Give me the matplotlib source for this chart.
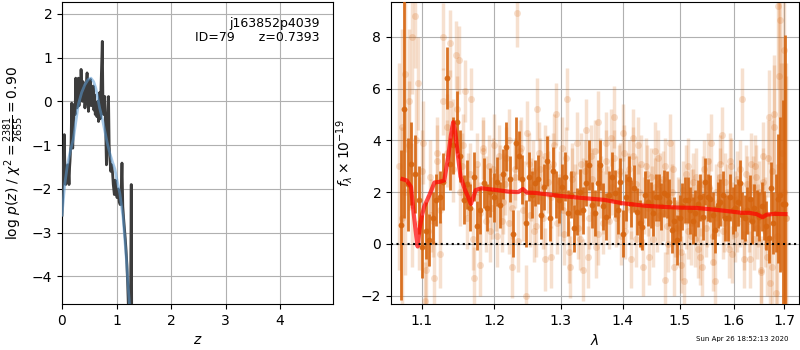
import numpy as np
import matplotlib
matplotlib.use("Agg")
import matplotlib.pyplot as plt
from matplotlib.ticker import NullLocator, FixedLocator

# ---------------- data: left panel (log p(z)) ----------------
z_grid = [0.000, 0.010, 0.020, 0.030, 0.042, 0.055, 0.068, 0.080, 0.092, 0.105,
          0.117, 0.129, 0.140, 0.147, 0.157, 0.166, 0.178, 0.188, 0.197, 0.210,
          0.227, 0.240, 0.252, 0.264, 0.276, 0.288, 0.300, 0.312, 0.325, 0.338,
          0.350, 0.362, 0.374, 0.386, 0.398, 0.410, 0.420, 0.440, 0.460, 0.472,
          0.485, 0.497, 0.510, 0.523, 0.535, 0.548, 0.560, 0.573, 0.585, 0.598,
          0.610, 0.625, 0.640, 0.655, 0.670, 0.680, 0.690, 0.700, 0.715, 0.739,
          0.750, 0.762, 0.775, 0.785, 0.800, 0.815, 0.830, 0.853, 0.865, 0.880,
          0.895, 0.910, 0.925, 0.940, 0.960, 0.975, 0.990, 1.010, 1.030, 1.050,
          1.068, 1.085, 1.100, 1.115, 1.130, 1.145, 1.160, 1.175, 1.190, 1.205,
          1.220, 1.240, 1.260, 1.270, 1.280, 1.300]
log_pz = [-2.6, -2.3, -1.6, -1.3, -0.76, -1.7, -1.9, -1.6, -1.85, -1.45,
          -1.6, -1.9, -1.5, -1.37, -1.1, -1.0, -0.04, -0.9, -1.07, -0.5,
          -0.07, -0.3, 0.53, 0.0, -0.15, 0.25, 0.53, -0.1, 0.3, 0.1,
          0.73, 0.2, 0.0, 0.45, 0.1, 0.3, -0.15, 0.2, 0.65, 0.1,
          -0.23, 0.45, 0.1, 0.5, -0.1, 0.3, 0.0, 0.35, -0.2, 0.15,
          -0.3, -0.1, -0.35, 0.0, -0.46, -0.1, 0.2, -0.4, 0.3, 1.37,
          0.08, -0.3, 0.0, 0.11, -0.61, -1.45, -0.8, 0.11, -1.0, -1.35,
          -1.6, -1.45, -1.6, -1.9, -2.13, -1.8, -2.05, -2.2, -2.0, -2.3,
          -2.36, -2.1, -1.41, -2.4, -2.67, -2.9, -3.13, -3.4, -3.73, -4.2,
          -4.8, -5.5, -4.0, -1.9, -5.5, -7.0]

z_smooth = [0.0, 0.05, 0.1, 0.15, 0.21, 0.25, 0.3, 0.36, 0.42, 0.48, 0.53, 0.58,
            0.62, 0.66, 0.69, 0.74, 0.785, 0.83, 0.88, 0.93, 0.97, 1.0, 1.06,
            1.12, 1.18, 1.24, 1.27]
log_pz_smooth = [-2.6, -1.9, -1.45, -1.15, -0.85, -0.5, -0.07, 0.2, 0.38, 0.5, 0.53,
                 0.45, 0.3, 0.05, -0.15, -0.4, -0.68, -0.95, -1.2, -1.4, -1.55,
                 -1.75, -2.1, -2.65, -3.6, -4.7, -5.3]

root_name = 'j163852p4039'
obj_id = 79
z_best = 0.7393
chi2_num, chi2_den = 2381, 2655
timestamp = 'Sun Apr 26 18:52:13 2020'

# ---------------- data: right panel (spectrum) ----------------
# binned spectrum, regular wavelength grid (start, step, count)
wave_bin_start, wave_bin_step, n_bin = 1.072, 0.0047, 135
flux_bin = [0.73, 5.2, 2.3, 3.1, 2.7, 1.7, -0.1, 0.5, 0.15, 1.0,
            1.7, 1.8, 2.4, 6.4, 3.1, 3.8, 4.7, 3.4, 1.7, 2.3,
            1.4, 2.6, 0.7, 1.3, 2.35, 1.4, 2.0, 1.8, 2.4, 1.5,
            2.7, 3.75, 2.5, 0.4, 3.9, 3.4, 2.5, 0.8, 2.6, 1.9,
            2.35, 2.5, 1.1, 2.2, 3.2, 1.0, 2.8, 1.9, 1.7, 2.2,
            2.6, 1.2, 1.9, 0.6, 1.25, 2.0, 1.3, 2.35, 3.05, 1.5,
            1.2, 2.35, 3.05, 1.45, 1.05, 1.9, 2.6, 1.95, 1.3, 2.4,
            0.4, 1.8, 2.5, 1.55, 2.15, 1.25, 0.8, 0.66, 1.9, 1.6,
            1.5, 1.2, 1.8, 1.8, 1.45, 1.95, 1.9, 1.6, 0.55, 0.9,
            0.15, 1.0, 1.45, 1.7, 1.7, 1.3, 0.9, 1.2, 1.55, 1.8,
            1.05, 2.4, 1.8, 1.75, 1.1, 0.55, 1.5, 1.6, 1.9, 1.0,
            1.0, 1.8, 1.3, 1.4, 1.6, 2.35, 1.1, 1.0, 1.3, 1.75,
            0.9, 1.4, 1.2, 1.05, 1.45, 1.1, 0.7, 0.23, 2.15, 0.8,
            1.2, 1.75, 1.9, 1.55, 1.55]
err_bin = [2.9, 4.2, 1.8, 1.6, 1.5, 1.3, 1.2, 1.1, 1.0, 1.0,
           1.0, 1.0, 1.1, 1.2, 1.0, 1.1, 1.2, 1.0, 0.95, 0.95,
           0.9, 0.95, 0.95, 0.9, 0.95, 0.9, 0.95, 0.95, 0.95, 0.9,
           0.95, 0.95, 0.9, 0.9, 1.0, 0.95, 0.95, 0.9, 0.95, 0.9,
           0.9, 0.95, 0.9, 0.9, 0.95, 0.9, 0.95, 0.9, 0.9, 0.9,
           0.95, 0.9, 0.9, 0.9, 0.9, 0.9, 0.9, 0.9, 0.95, 0.9,
           0.9, 0.9, 0.95, 0.9, 0.9, 0.9, 0.95, 0.9, 0.9, 0.9,
           0.9, 0.9, 0.9, 0.9, 0.9, 0.9, 0.9, 0.9, 0.9, 0.9,
           0.9, 0.9, 0.9, 0.9, 0.9, 0.9, 0.9, 0.9, 0.9, 0.9,
           0.95, 0.9, 0.9, 0.9, 0.9, 0.9, 0.9, 0.9, 0.9, 0.9,
           0.9, 0.9, 0.9, 0.9, 0.9, 0.9, 0.9, 0.9, 0.9, 0.9,
           0.9, 0.9, 0.9, 0.9, 0.9, 0.9, 0.9, 0.9, 0.9, 0.9,
           0.9, 0.9, 0.9, 0.95, 0.95, 0.95, 0.95, 0.95, 1.0, 1.2,
           1.5, 2.5, 3.0, 4.0, 6.5]

# individual-beam spectrum A, regular wavelength grid (start, step, count)
wave_rawA_start, wave_rawA_step, n_rawA = 1.070, 0.0042, 152
flux_rawA = [3.0, 1.0, 6.55, 3.8, 8.0, 8.8, 6.2, 2.8, -2.2, 0.5,
             1.1, -1.3, 3.5, -0.4, 8.0, 4.5, 7.75, 4.3, 7.3, 7.1,
             3.0, 5.9, 2.3, 5.6, -1.3, 1.8, -0.8, 3.7, 0.9, 3.0,
             1.4, 3.8, 0.3, 2.6, 1.6, 3.3, 0.8, -0.9, 2.9, 8.9,
             3.6, 1.3, -2.0, 3.1, 2.1, 0.5, 5.2, 2.9, 1.0, 3.4,
             2.4, -0.5, 3.1, 5.0, 1.5, 3.7, 0.4, 5.6, -0.9, 2.5,
             1.6, 3.9, 0.2, -1.0, 2.8, -0.5, 3.4, 1.2, -0.1, 4.7,
             2.2, 0.8, 3.2, 1.9, 4.1, 4.9, 1.0, 2.7, 0.3, 3.5,
             1.7, 2.9, -0.6, 4.1, 2.3, 3.8, 0.9, -0.9, 3.0, 1.4,
             2.6, 0.2, 2.2, 3.3, 1.1, 2.5, -1.4, 0.7, 3.9, 2.0,
             -0.9, 0.6, 1.4, -0.3, -1.45, 2.7, 0.5, 1.8, 2.4, 0.2,
             1.2, -0.5, -0.9, 2.9, 1.0, 2.2, 3.9, 0.3, -1.45, 1.6,
             2.6, 4.2, 0.8, 2.0, -0.2, 3.0, 1.3, 0.4, 2.5, 1.0,
             5.6, 0.1, 2.7, 1.5, -0.6, 2.2, 3.0, 0.6, 2.0, -1.1,
             3.4, 1.2, -0.5, 4.9, -0.9, 5.0, -1.9, 9.2, 8.65, 3.5,
             2.0, 1.0]
err_rawA = [4.0, 3.5, 3.0, 2.5, 2.2, 2.0, 1.8, 1.6, 1.5, 1.4,
            1.4, 1.4, 1.4, 1.3, 1.3, 1.3, 1.3, 1.3, 1.3, 1.3,
            1.3, 1.2, 1.2, 1.2, 1.2, 1.2, 1.2, 1.2, 1.2, 1.2,
            1.2, 1.2, 1.2, 1.2, 1.2, 1.2, 1.2, 1.2, 1.2, 1.3,
            1.2, 1.2, 1.2, 1.2, 1.2, 1.2, 1.2, 1.2, 1.2, 1.2,
            1.2, 1.2, 1.2, 1.2, 1.2, 1.2, 1.2, 1.2, 1.2, 1.2,
            1.2, 1.2, 1.2, 1.2, 1.2, 1.2, 1.2, 1.2, 1.2, 1.2,
            1.2, 1.2, 1.2, 1.1, 1.1, 1.2, 1.1, 1.1, 1.1, 1.1,
            1.1, 1.1, 1.1, 1.1, 1.1, 1.1, 1.1, 1.1, 1.1, 1.1,
            1.1, 1.1, 1.1, 1.1, 1.1, 1.1, 1.1, 1.1, 1.1, 1.1,
            1.1, 1.1, 1.1, 1.1, 1.1, 1.1, 1.1, 1.1, 1.1, 1.1,
            1.1, 1.1, 1.1, 1.1, 1.1, 1.1, 1.1, 1.1, 1.1, 1.1,
            1.1, 1.1, 1.1, 1.1, 1.1, 1.1, 1.1, 1.1, 1.1, 1.1,
            1.2, 1.1, 1.1, 1.1, 1.1, 1.2, 1.2, 1.2, 1.2, 1.3,
            1.3, 1.4, 1.5, 1.8, 2.0, 2.3, 2.7, 3.2, 3.8, 4.5,
            5.0, 6.0]

# individual-beam spectrum B, regular wavelength grid (start, step, count)
wave_rawB_start, wave_rawB_step, n_rawB = 1.0735, 0.0046, 138
flux_rawB = [4.5, 2.0, 5.5, 1.5, 4.0, 0.8, 3.9, -1.0, 2.6, 0.9,
             3.2, 1.3, 5.5, 3.5, 5.4, 2.9, 5.2, 2.0, 3.8, 1.0,
             2.7, 0.2, 3.1, 1.2, 3.6, 2.2, 0.5, 2.9, 1.7, 3.4,
             0.9, 2.3, 4.0, 1.4, 2.6, 0.1, 3.7, 2.0, 4.3, 1.1,
             2.8, 0.7, 3.5, 2.2, -0.6, 3.0, 1.8, 3.8, 0.8, 2.4,
             1.3, 3.3, -0.3, 2.7, 1.9, 0.6, 3.1, 2.1, 4.4, 1.0,
             2.5, 3.6, 0.4, 2.9, 1.6, 3.9, 0.9, 2.2, 3.3, 1.1,
             2.8, 4.3, 0.5, 2.4, 1.3, 3.4, 0.2, 2.0, 3.1, 1.5,
             2.7, -0.5, 1.9, 3.6, 0.8, 2.4, 1.2, 3.0, 0.0, 1.7,
             2.9, 0.6, 1.5, -0.8, 2.1, 0.9, 3.0, 0.3, 1.8, 2.6,
             -0.2, 1.4, 2.3, 0.6, 3.2, 1.1, -0.7, 2.0, 1.4, 3.1,
             0.5, 2.4, 1.0, 3.2, -0.4, 1.7, 0.8, 2.9, 1.3, -0.6,
             2.3, 0.9, 3.1, 0.2, 2.6, 1.1, -1.0, 2.4, 0.5, 3.3,
             -1.5, 2.8, 4.5, 0.3, 6.5, 3.0, 7.5, 1.0]
err_rawB = [3.8, 3.2, 2.8, 2.4, 2.0, 1.8, 1.6, 1.5, 1.4, 1.4,
            1.4, 1.3, 1.3, 1.3, 1.3, 1.3, 1.3, 1.3, 1.2, 1.2,
            1.2, 1.2, 1.2, 1.2, 1.2, 1.2, 1.2, 1.2, 1.2, 1.2,
            1.2, 1.2, 1.2, 1.2, 1.2, 1.2, 1.2, 1.2, 1.2, 1.2,
            1.2, 1.2, 1.2, 1.2, 1.2, 1.2, 1.2, 1.2, 1.2, 1.2,
            1.2, 1.2, 1.2, 1.2, 1.2, 1.2, 1.2, 1.2, 1.2, 1.2,
            1.2, 1.2, 1.2, 1.2, 1.2, 1.2, 1.1, 1.1, 1.1, 1.1,
            1.1, 1.1, 1.1, 1.1, 1.1, 1.1, 1.1, 1.1, 1.1, 1.1,
            1.1, 1.1, 1.1, 1.1, 1.1, 1.1, 1.1, 1.1, 1.1, 1.1,
            1.1, 1.1, 1.1, 1.1, 1.1, 1.1, 1.1, 1.1, 1.1, 1.1,
            1.1, 1.1, 1.1, 1.1, 1.1, 1.1, 1.1, 1.1, 1.1, 1.1,
            1.1, 1.1, 1.1, 1.1, 1.1, 1.1, 1.1, 1.1, 1.1, 1.1,
            1.1, 1.2, 1.2, 1.2, 1.2, 1.2, 1.3, 1.3, 1.4, 1.5,
            1.7, 2.0, 2.4, 2.8, 3.4, 4.0, 4.6, 5.5]

model_wave = [1.0747, 1.080, 1.0856, 1.089, 1.0925, 1.0943, 1.097, 1.100, 1.103,
              1.107, 1.1108, 1.1166, 1.1243, 1.1299, 1.1353, 1.139, 1.1421, 1.145,
              1.1482, 1.1522, 1.1585, 1.163, 1.1667, 1.170, 1.1735, 1.1815, 1.19,
              1.2033, 1.22, 1.235, 1.242, 1.248, 1.26, 1.30, 1.34, 1.37, 1.40,
              1.44, 1.47, 1.50, 1.53, 1.56, 1.60, 1.615, 1.63, 1.645, 1.657,
              1.665, 1.68, 1.703]
model_flux = [2.5, 2.45, 2.2, 1.2, 0.3, -0.1, 0.6, 1.1, 1.44,
              1.7, 1.95, 2.37, 2.4, 2.45, 3.37, 4.2, 4.7, 4.3,
              3.5, 2.6, 2.08, 1.8, 1.54, 1.8, 2.08, 2.15, 2.12,
              2.08, 2.02, 2.0, 2.12, 1.98, 1.97, 1.85, 1.76, 1.7, 1.57,
              1.47, 1.43, 1.4, 1.39, 1.33, 1.24, 1.2, 1.2, 1.15, 1.03,
              1.13, 1.16, 1.15]

wave_bin = wave_bin_start + wave_bin_step * np.arange(n_bin)
wave_rawA = wave_rawA_start + wave_rawA_step * np.arange(n_rawA)
wave_rawB = wave_rawB_start + wave_rawB_step * np.arange(n_rawB)

# ---------------- figure ----------------
orange = '#d6650f'
fig = plt.figure(figsize=(8, 3.5), dpi=100)
ax1 = fig.add_axes([62 / 800, 46 / 350, 271 / 800, 302 / 350])
ax2 = fig.add_axes([391 / 800, 46 / 350, 408 / 800, 302 / 350])

# left panel
ax1.plot(z_grid, log_pz, color='#3c3c3c', lw=2.0, zorder=3)
ax1.plot(z_smooth, log_pz_smooth, color='#5b9bd5', lw=2.0, alpha=0.55, zorder=4)
pzmax = max(log_pz)
ax1.set_ylim(pzmax - 6, pzmax + 0.9)
ax1.set_xlim(0, 4.97)
ax1.set_xticks([0, 1, 2, 3, 4])
ax1.set_yticks([-4, -3, -2, -1, 0, 1, 2])
ax1.grid(True, color='#b0b0b0', lw=0.8)
ax1.set_axisbelow(True)
ax1.set_xlabel(r'$z$')
ax1.set_ylabel(r'log $p(z)$ / $\chi^2=\frac{%d}{%d}=%.2f$' % (chi2_num, chi2_den, chi2_num / chi2_den))
ax1.text(0.95, 0.95, '%s\nID=%d      z=%.4f' % (root_name, obj_id, z_best),
         transform=ax1.transAxes, ha='right', va='top', fontsize=9, linespacing=1.1)

# right panel
for w, f, e in ((wave_rawA, flux_rawA, err_rawA), (wave_rawB, flux_rawB, err_rawB)):
    ax2.errorbar(w, f, yerr=e, fmt='o', color=orange, alpha=0.2,
                 ms=5, mec='none', elinewidth=2.5, capsize=0, zorder=2)
ax2.errorbar(wave_bin, flux_bin, yerr=err_bin, fmt='o', color=orange, alpha=0.9,
             ms=4.2, mec='none', elinewidth=2.0, capsize=0, zorder=3)
ax2.plot(model_wave, model_flux, color='red', lw=3, alpha=0.7, zorder=5)
ax2.axhline(0, color='k', ls=':', lw=1.5, zorder=6)

ax2.set_xscale('log')
ax2.set_xlim(1.0598, 1.731)
ax2.xaxis.set_major_locator(FixedLocator([1.1, 1.2, 1.3, 1.4, 1.5, 1.6, 1.7]))
ax2.xaxis.set_minor_locator(NullLocator())
ax2.set_xticklabels(['1.1', '1.2', '1.3', '1.4', '1.5', '1.6', '1.7'])
ax2.set_ylim(-2.32, 9.34)
ax2.set_yticks([-2, 0, 2, 4, 6, 8])
ax2.grid(True, color='#b0b0b0', lw=0.8)
ax2.set_axisbelow(True)
ax2.set_xlabel(r'$\lambda$')
ax2.set_ylabel(r'$f_\lambda\times10^{-19}$')

fig.text(0.985, 0.022, timestamp, ha='right', va='bottom', fontsize=5)

fig.savefig('out.png', dpi=100)
